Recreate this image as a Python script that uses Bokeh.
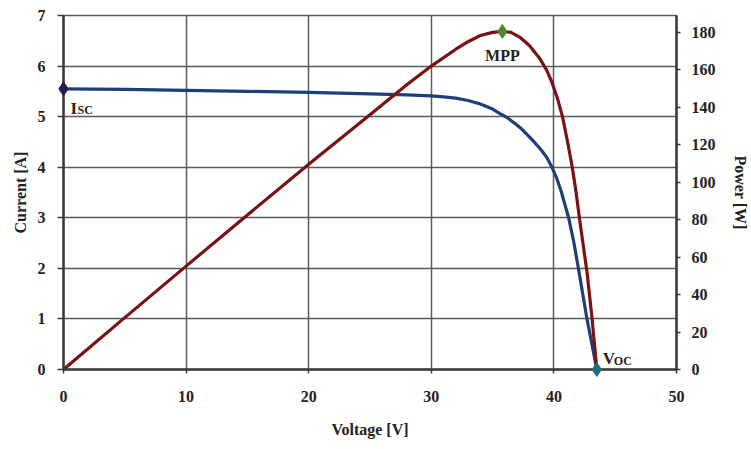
from bokeh.plotting import figure
from bokeh.models import Range1d, LinearAxis, FixedTicker
from bokeh.core.properties import value
from bokeh.embed import file_html
from bokeh.resources import INLINE

# I-V curve (Voltage [V], Current [A])
voltage_iv = [0, 5, 10, 15, 20, 25, 28, 30, 31, 32, 33, 34, 35, 35.6, 36.2, 36.8, 37.4, 38, 38.5, 39, 39.4,
              39.8, 40.2, 40.6, 41.2, 41.6, 42.0, 42.35, 42.7, 43.1, 43.5]
current = [5.55, 5.54, 5.52, 5.50, 5.48, 5.45, 5.43, 5.41, 5.39, 5.365, 5.32, 5.25, 5.15, 5.06, 4.98, 4.87, 4.75,
           4.6, 4.47, 4.33, 4.2, 4.02, 3.8, 3.52, 3.0, 2.55, 2.0, 1.5, 1.0, 0.5, 0.0]

# P-V curve (Voltage [V], Power [W])
voltage_pv = [0, 5, 10, 15, 20, 25, 28, 30, 32, 33, 34, 35, 35.8, 36.5, 37.2, 38, 38.8, 39.4, 39.8,
              40.3, 40.7, 41.1, 41.5, 41.8, 42.1, 42.4, 42.7, 43.1, 43.5]
power = [0, 27.7, 55.2, 82.5, 109.6, 136, 152, 162, 171, 175, 178.3, 180, 180.5, 180, 177.5, 173, 166.5, 160, 154,
         144.5, 135, 122, 108, 95, 80, 66, 52, 28, 0]

# Characteristic points
isc_v, isc_i = 0, 5.55
mpp_v, mpp_p = 35.8, 180.5
voc_v, voc_i = 43.5, 0

x_ticks = [0, 10, 20, 30, 40, 50]
current_ticks = [0, 1, 2, 3, 4, 5, 6, 7]
power_ticks = [0, 20, 40, 60, 80, 100, 120, 140, 160, 180]

SERIF = "Liberation Serif"
GRID = "#5a5a5a"
AX = "#3a3a3a"

p = figure(width=751, height=449, x_range=Range1d(0, 50), y_range=Range1d(0, 7),
           output_backend="svg", toolbar_location=None,
           min_border_left=63, min_border_right=73, min_border_top=15, min_border_bottom=80)
p.extra_y_ranges = {"power": Range1d(0, 189)}

p.background_fill_color = "white"
p.border_fill_color = "white"
p.outline_line_color = GRID
p.outline_line_width = 1.5

p.xgrid.ticker = FixedTicker(ticks=x_ticks)
p.ygrid.ticker = FixedTicker(ticks=current_ticks)
for g in (p.xgrid[0], p.ygrid[0]):
    g.grid_line_color = GRID
    g.grid_line_width = 1.5

def style_axis(ax, tick_out, standoff, label_standoff):
    ax.axis_line_color = AX
    ax.axis_line_width = 2.5
    ax.major_tick_line_color = AX
    ax.major_tick_line_width = 1.5
    ax.major_tick_out = tick_out
    ax.major_tick_in = 0
    ax.minor_tick_line_color = None
    ax.major_label_text_font = SERIF
    ax.major_label_text_font_style = "bold"
    ax.major_label_text_font_size = "16px"
    ax.major_label_text_color = "#222222"
    ax.major_label_standoff = standoff
    ax.axis_label_text_font = SERIF
    ax.axis_label_text_font_style = "bold"
    ax.axis_label_text_font_size = "16px"
    ax.axis_label_text_color = "#222222"
    ax.axis_label_standoff = label_standoff

p.xaxis.ticker = FixedTicker(ticks=x_ticks)
p.xaxis.axis_label = "Voltage [V]"
style_axis(p.xaxis[0], 4, 17, 16)

p.yaxis.ticker = FixedTicker(ticks=current_ticks)
p.yaxis.axis_label = "Current [A]"
style_axis(p.yaxis[0], 6, 12, 6)

right = LinearAxis(y_range_name="power", ticker=FixedTicker(ticks=power_ticks), axis_label="Power [W]")
style_axis(right, 4, 11, 13)
p.add_layout(right, "right")

# curves
p.line(voltage_iv, current, line_color="#1d3f7a", line_width=3.2, line_join="round")
p.line(voltage_pv, power, line_color="#7a1214", line_width=3.2, line_join="round", y_range_name="power")

# markers (overlay level so they are not clipped at the frame edge)
p.scatter([isc_v], [isc_i], marker="diamond", size=14, fill_color="#2c1a4c", line_color="#2c1a4c",
          level="overlay")
p.scatter([mpp_v], [mpp_p], marker="diamond", size=14, fill_color="#4f8a2c", line_color="#4f8a2c",
          y_range_name="power", level="overlay")
p.scatter([voc_v], [voc_i], marker="diamond", size=14, fill_color="#1c6f7c", line_color="#1c6f7c",
          level="overlay")

# annotations
common = dict(text_font=value(SERIF), text_font_style="bold", text_color="#222222")
p.text([isc_v], [isc_i], text=["I"], x_offset=7, y_offset=20, text_font_size="17px",
       text_baseline="alphabetic", text_align="left", **common)
p.text([isc_v], [isc_i], text=["SC"], x_offset=14, y_offset=21, text_font_size="12px",
       text_baseline="alphabetic", text_align="left", **common)
p.text([mpp_v], [mpp_p], text=["MPP"], x_offset=0, y_offset=24, text_font_size="16px",
       text_baseline="alphabetic", text_align="center", y_range_name="power", **common)
p.text([voc_v], [voc_i], text=["V"], x_offset=6, y_offset=-11, text_font_size="17px",
       text_baseline="alphabetic", text_align="left", **common)
p.text([voc_v], [voc_i], text=["OC"], x_offset=17, y_offset=-9, text_font_size="12px",
       text_baseline="alphabetic", text_align="left", **common)

open("out.html", "w").write(file_html(p, INLINE))
